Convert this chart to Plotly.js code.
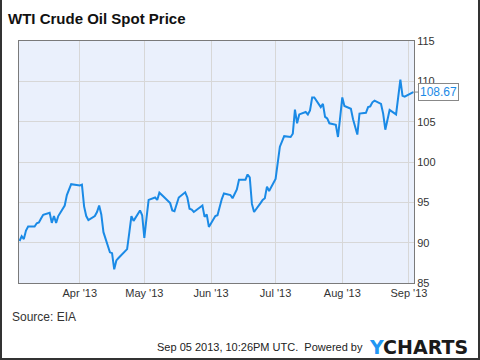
<!DOCTYPE html>
<html>
<head>
<meta charset="utf-8">
<script src="https://cdn.plot.ly/plotly-3.0.1.min.js"></script>
<style>
  html, body { margin: 0; padding: 0; background: #fff; }
  #wrap { position: relative; width: 480px; height: 360px; }
  #chart { position: absolute; left: 0; top: 0; width: 480px; height: 360px; }
  #frame { position: absolute; left: 0; top: 0; width: 480px; height: 360px; box-sizing: border-box;
           border-left: 2px solid #333; border-right: 2px solid #333; border-bottom: 2px solid #333; pointer-events: none; }
</style>
</head>
<body>
<div id="wrap"><div id="chart"></div><div id="frame"></div></div>
<script>
const dates = [
'2013-03-04','2013-03-05','2013-03-06','2013-03-07','2013-03-08',
'2013-03-11','2013-03-12','2013-03-13','2013-03-14','2013-03-15',
'2013-03-18','2013-03-19','2013-03-20','2013-03-21','2013-03-22',
'2013-03-25','2013-03-26','2013-03-27','2013-03-28',
'2013-04-01','2013-04-02','2013-04-03','2013-04-04','2013-04-05',
'2013-04-08','2013-04-09','2013-04-10','2013-04-11','2013-04-12',
'2013-04-15','2013-04-16','2013-04-17','2013-04-18','2013-04-19',
'2013-04-22','2013-04-23','2013-04-24','2013-04-25','2013-04-26',
'2013-04-29','2013-04-30','2013-05-01','2013-05-02','2013-05-03',
'2013-05-06','2013-05-07','2013-05-08','2013-05-09','2013-05-10',
'2013-05-13','2013-05-14','2013-05-15','2013-05-16','2013-05-17',
'2013-05-20','2013-05-21','2013-05-22','2013-05-23','2013-05-24',
'2013-05-28','2013-05-29','2013-05-30','2013-05-31',
'2013-06-03','2013-06-04','2013-06-05','2013-06-06','2013-06-07',
'2013-06-10','2013-06-11','2013-06-12','2013-06-13','2013-06-14',
'2013-06-17','2013-06-18','2013-06-19','2013-06-20','2013-06-21',
'2013-06-24','2013-06-25','2013-06-26','2013-06-27','2013-06-28',
'2013-07-01','2013-07-02','2013-07-03','2013-07-05',
'2013-07-08','2013-07-09','2013-07-10','2013-07-11','2013-07-12',
'2013-07-15','2013-07-16','2013-07-17','2013-07-18','2013-07-19',
'2013-07-22','2013-07-23','2013-07-24','2013-07-25','2013-07-26',
'2013-07-29','2013-07-30','2013-07-31','2013-08-01','2013-08-02',
'2013-08-05','2013-08-06','2013-08-07','2013-08-08','2013-08-09',
'2013-08-12','2013-08-13','2013-08-14','2013-08-15','2013-08-16',
'2013-08-19','2013-08-20','2013-08-21','2013-08-22','2013-08-23',
'2013-08-26','2013-08-27','2013-08-28','2013-08-29','2013-08-30',
'2013-09-03'
];
const prices = [
90.2, 90.8, 90.45, 91.5, 92.0,
92.0, 92.4, 92.5, 93.0, 93.45,
93.7, 92.45, 93.3, 92.45, 93.3,
94.6, 95.9, 96.6, 97.25,
97.1, 97.2, 94.5, 93.3, 92.8,
93.3, 93.8, 94.6, 93.5, 91.3,
88.8, 88.7, 86.7, 87.8, 88.1,
88.9, 89.2, 91.2, 93.3, 92.7,
94.0, 93.4, 90.6, 93.0, 95.3,
95.6, 95.3, 96.2, 96.0, 95.7,
94.9, 94.0, 93.9, 94.7, 95.6,
96.25, 95.6, 94.2, 94.1, 93.8,
94.6, 93.2, 93.5, 91.95,
93.3, 93.4, 94.5, 95.4, 96.1,
95.9, 95.5, 96.0, 96.6, 97.8,
97.8, 98.45, 98.1, 94.8, 93.8,
94.9, 95.3, 95.5, 96.95, 96.4,
97.9, 99.9, 101.9, 103.2,
103.1, 103.5, 106.5, 104.8, 105.9,
106.2, 105.9, 106.4, 108.0, 108.0,
106.8, 107.2, 105.6, 105.4, 104.8,
104.6, 103.1, 105.5, 108.0, 106.95,
106.6, 105.3, 104.4, 103.4, 106.0,
106.1, 106.8, 106.9, 107.4, 107.6,
107.2, 106.0, 104.0, 105.3, 106.45,
105.9, 108.3, 110.2, 108.2, 108.1,
108.67
];
const yTicks = [85, 90, 95, 100, 105, 110, 115];
const chartTitle = 'WTI Crude Oil Spot Price';
const sourceText = 'Source: EIA';
const footerText = 'Sep 05 2013, 10:26PM UTC.  Powered by';
const lastLabel = '108.67';

const FONT = '"Liberation Sans", Arial, Helvetica, sans-serif';
const lastDate = dates[dates.length - 1];
const lastVal = prices[prices.length - 1];

const trace = {
  x: dates, y: prices, type: 'scatter', mode: 'lines',
  line: { color: '#1a8ae6', width: 2 },
  hoverinfo: 'skip'
};

const layout = {
  width: 480, height: 360,
  margin: { l: 19, r: 66, t: 41, b: 77 },
  paper_bgcolor: '#ffffff',
  plot_bgcolor: '#eaf0fc',
  showlegend: false,
  font: { family: FONT, color: '#333', size: 11 },
  xaxis: {
    type: 'date',
    range: ['2013-03-03 18:00', '2013-09-03 08:00'],
    tickformat: "%b '%y",
    dtick: 'M1',
    tick0: '2013-04-01',
    showgrid: true, gridcolor: '#d7d7d7', gridwidth: 1,
    showline: true, linecolor: '#7a7a7a', linewidth: 1, mirror: true,
    ticks: '', zeroline: false,
    tickfont: { family: FONT, size: 11, color: '#333' }
  },
  yaxis: {
    side: 'right',
    range: [85, 115],
    tickvals: yTicks,
    showgrid: true, gridcolor: '#d7d7d7', gridwidth: 1,
    showline: true, linecolor: '#7a7a7a', linewidth: 1, mirror: true,
    ticks: '', zeroline: false,
    tickfont: { family: FONT, size: 11, color: '#333' }
  },
  title: {
    text: '<b>' + chartTitle + '</b>',
    font: { family: FONT, size: 15, color: '#111' },
    x: 0, xref: 'paper', xanchor: 'left',
    y: 1, yref: 'container', yanchor: 'top',
    pad: { t: 13, l: -11 }
  },
  annotations: [
    {
      xref: 'paper', yref: 'paper', x: -0.022, y: -0.105,
      xanchor: 'left', yanchor: 'top', showarrow: false,
      text: sourceText, font: { family: FONT, size: 12, color: '#333' }
    },
    {
      xref: 'paper', yref: 'paper', x: 0.877, y: -0.233,
      xanchor: 'right', yanchor: 'top', showarrow: false,
      text: footerText, font: { family: FONT, size: 11, color: '#222' }
    },
    {
      xref: 'paper', yref: 'paper', x: 0.882, y: -0.212,
      xanchor: 'left', yanchor: 'top', showarrow: false,
      text: '<b><span style="color:#2196f3">Y</span>CHARTS</b>',
      font: { family: '"DejaVu Sans", sans-serif', size: 19, color: '#1a1a1a' }
    },
    {
      x: lastDate, y: lastVal, xref: 'x', yref: 'y',
      text: lastLabel, showarrow: true, arrowhead: 0, arrowwidth: 1,
      arrowcolor: '#888', ax: 5, ay: 0, xanchor: 'left',
      bordercolor: '#888', borderwidth: 1, borderpad: 1, bgcolor: '#ffffff',
      font: { family: FONT, size: 12, color: '#1a8ae6' }
    }
  ]
};

Plotly.newPlot('chart', [trace], layout, { staticPlot: true, displayModeBar: false });
</script>
</body>
</html>
